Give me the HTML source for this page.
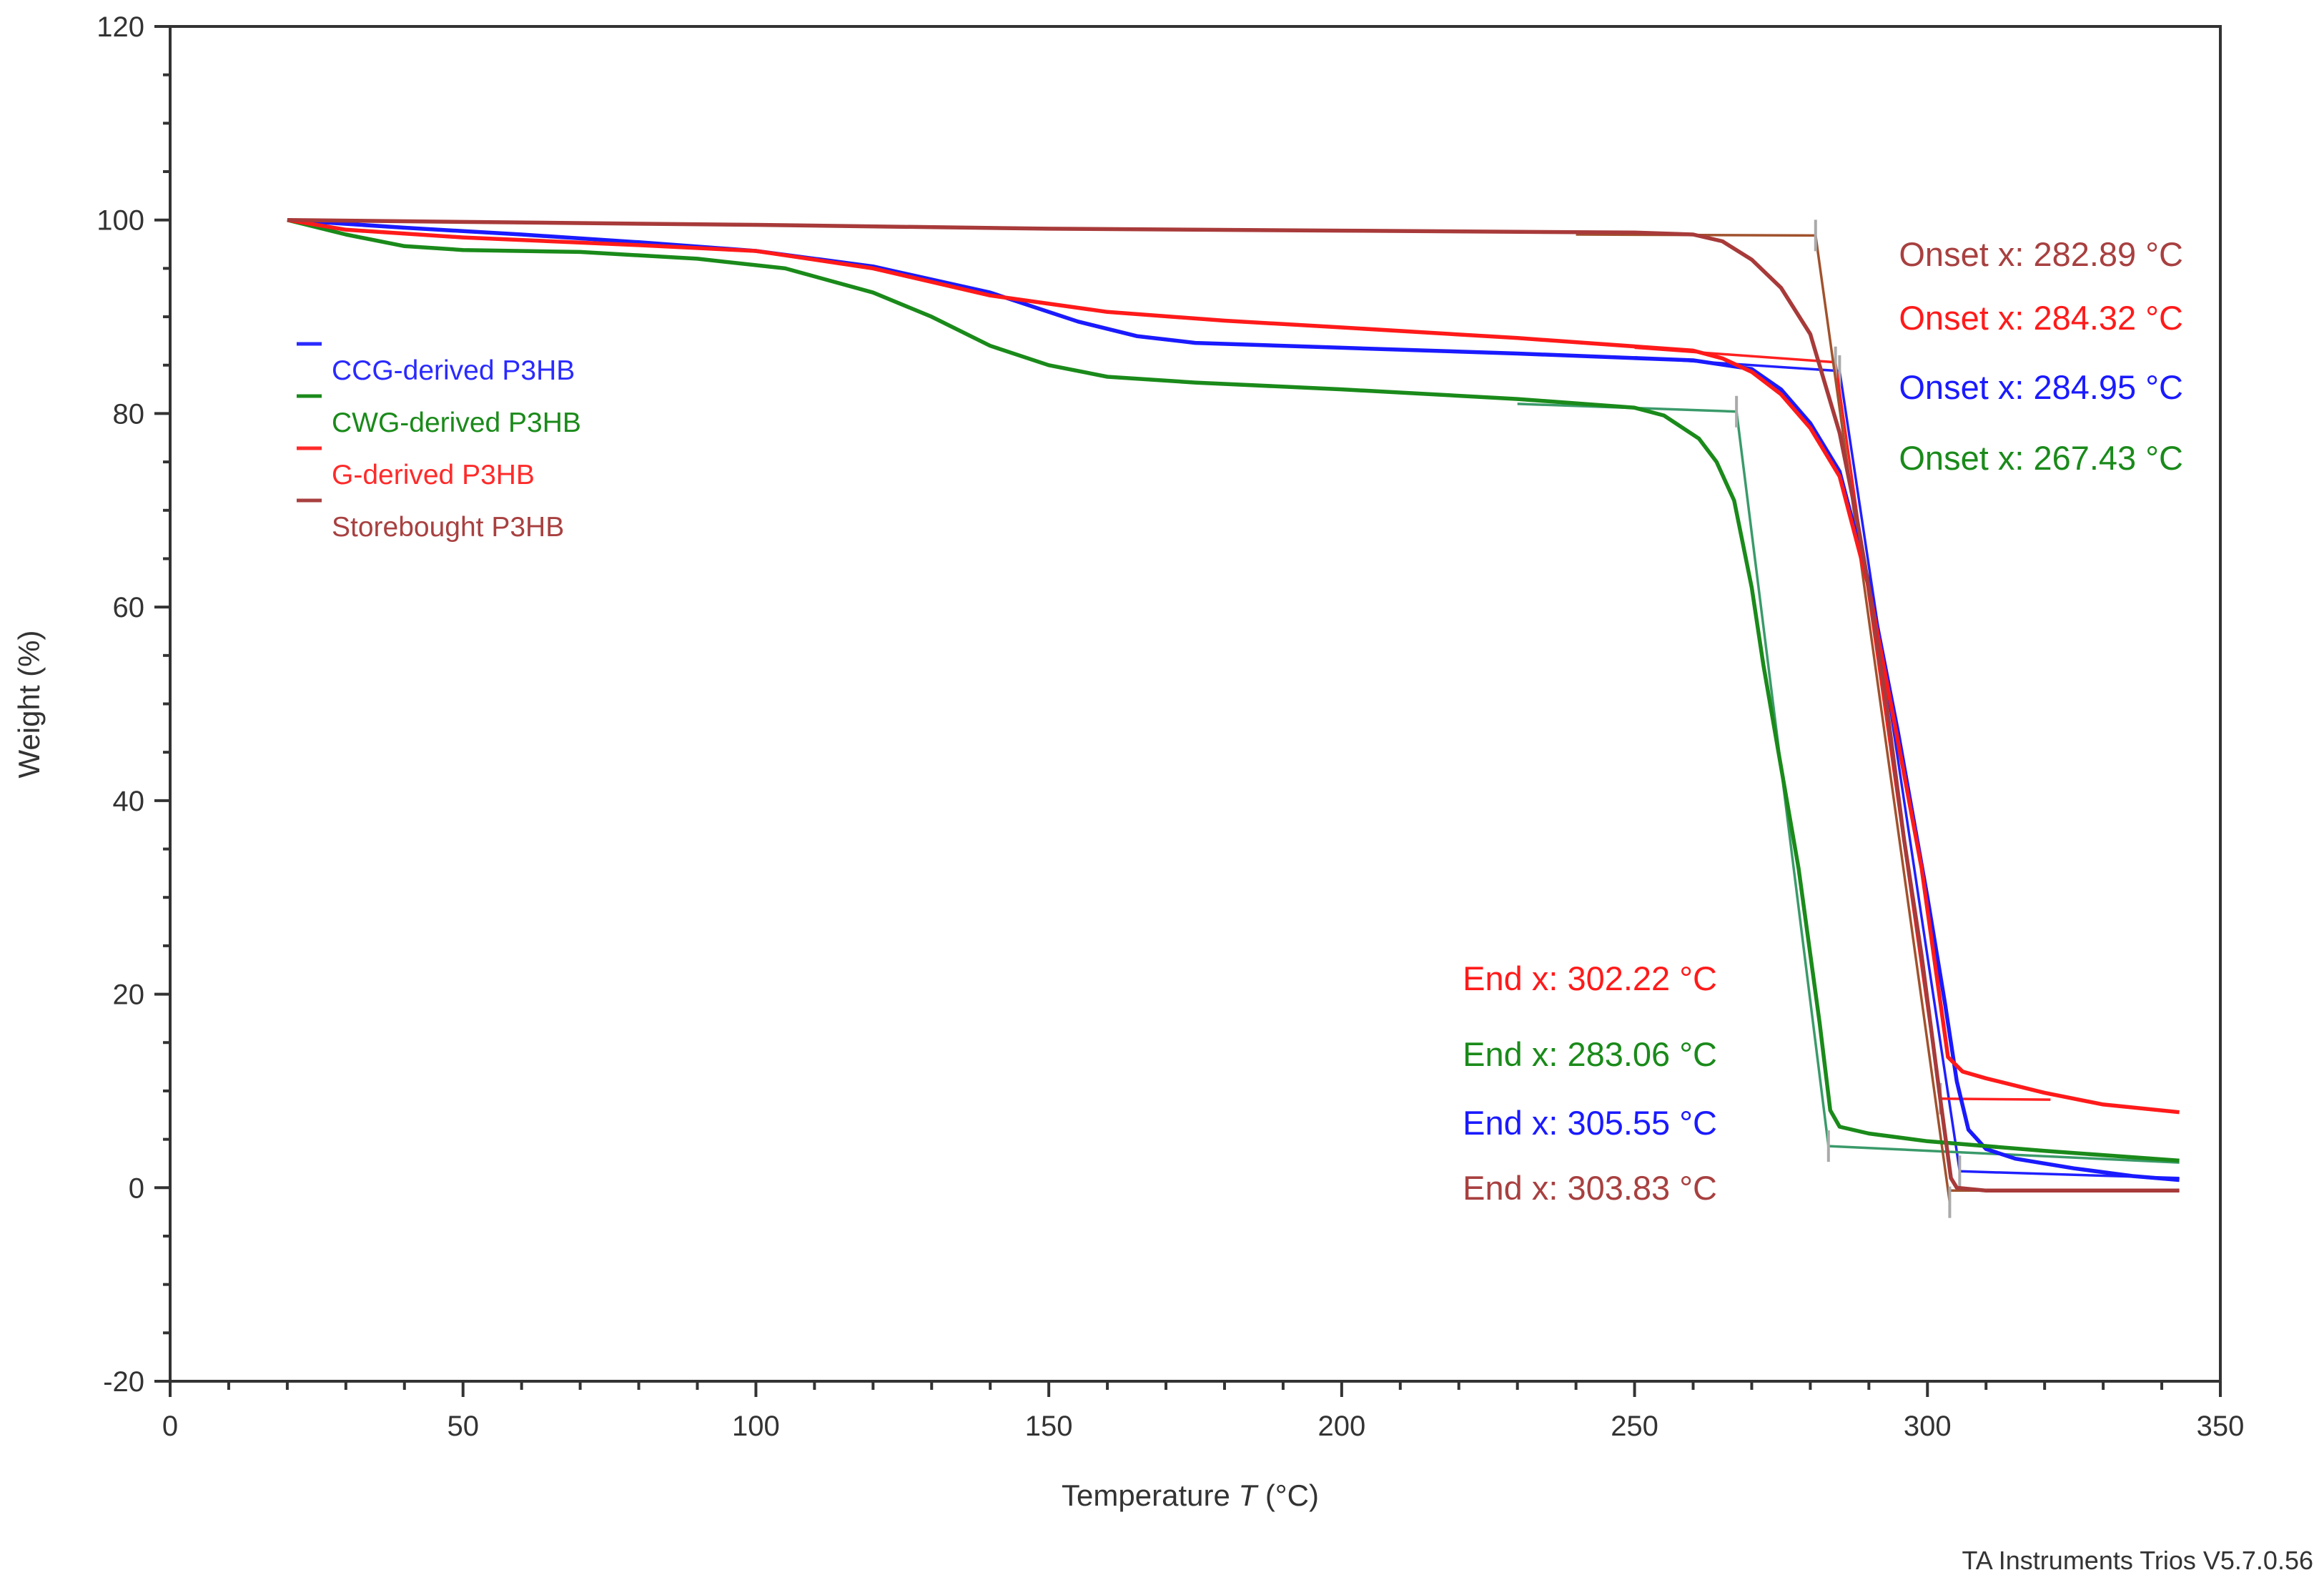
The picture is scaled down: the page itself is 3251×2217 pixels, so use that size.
<!DOCTYPE html>
<html><head><meta charset="utf-8"><style>
html,body{margin:0;padding:0;background:#fff;}
svg{display:block;font-family:"Liberation Sans",Arial,sans-serif;}
</style></head><body>
<svg id="chart" width="3251" height="2217" viewBox="0 0 3251 2217" xmlns="http://www.w3.org/2000/svg">
<rect width="3251" height="2217" fill="#fff"/>
<g id="grid"></g>
<g id="series"></g>
<g id="labels"></g>
</svg>
<script>
// ---- data ----
const xTicks = [0,50,100,150,200,250,300,350];
const yTicks = [-20,0,20,40,60,80,100,120];
const ccgT = [20,40,60,80,100,120,140,155,165,175,200,230,260,270,275,280,285,290,295,300,303,305,307,310,315,325,335,343];
const ccgW = [100,99.2,98.5,97.7,96.8,95.2,92.5,89.5,88,87.3,86.8,86.2,85.5,84.6,82.5,79,74,62.5,47,30,19,11,6,4,3,2,1.2,0.8];
const gT = [20,30,50,80,100,120,140,160,180,200,230,260,265,270,275,280,285,290,295,299,302,303.5,306,310,320,330,343];
const gW = [100,99,98.2,97.4,96.8,95,92.2,90.5,89.6,88.9,87.8,86.5,85.7,84.3,82,78.5,73.5,62,46,33,20,13.5,12,11.3,9.8,8.6,7.8];
const cwgT = [20,30,40,50,70,90,105,120,130,140,150,160,175,200,230,250,255,261,264,267,270,272,275,278,281.6,283.4,285,290,300,320,343];
const cwgW = [100,98.5,97.3,96.9,96.7,96,95,92.5,90,87,85,83.8,83.2,82.5,81.5,80.6,79.8,77.4,75,71,62,54,43.5,33,17,8,6.3,5.6,4.8,3.8,2.8];
const sbT = [20,50,100,150,200,250,260,265,270,275,280,285,288,290,293,296,299,302,304,305,310,343];
const sbW = [100,99.8,99.5,99.1,98.9,98.7,98.5,97.8,95.9,93,88.2,78,69,62,50,36,24,10,1,0,-0.3,-0.3];
// tangent construction lines: [x0,y0,x1,y1,...]
const sbTan = [240,98.5, 280.9,98.4, 303.8,-1.5];
const sbBase = [303.8,-0.3, 343,-0.3];
const gTan = [250,86.8, 284.3,85.3, 302.2,9.2];
const gBase = [302.2,9.2, 321,9.1];
const ccgTan = [250,85.8, 285,84.4, 305.5,1.7];
const ccgBase = [305.5,1.7, 343,1.0];
const cwgTan = [230,81, 267.4,80.2, 283.1,4.3];
const cwgBase = [283.1,4.3, 343,2.6];
const onsetLabels = ["Onset x: 282.89 °C","Onset x: 284.32 °C","Onset x: 284.95 °C","Onset x: 267.43 °C"];
const endLabels = ["End x: 302.22 °C","End x: 283.06 °C","End x: 305.55 °C","End x: 303.83 °C"];

const X0=238,X1=3106,Y0=1932,Y1=37;
const sx=v=>X0+(v-0)/(350-0)*(X1-X0);
const sy=v=>Y0-(v+20)/(140)*(Y0-Y1);
const NS="http://www.w3.org/2000/svg";
function mk(tag,attrs,parent){const e=document.createElementNS(NS,tag);for(const k in attrs)e.setAttribute(k,attrs[k]);parent.appendChild(e);return e;}
const grid=document.getElementById('grid'),ser=document.getElementById('series'),lab=document.getElementById('labels');

let frame=mk('rect',{x:X0,y:Y1,width:X1-X0,height:Y0-Y1,fill:'none',stroke:'#333','stroke-width':4},grid);


for(let v=0;v<=350;v+=10){
  const major=v%50===0;
  const t=mk('line',{x1:sx(v),x2:sx(v),y1:Y0,y2:Y0+(major?22:12),stroke:'#333','stroke-width':4},grid);
  
  
}
xTicks.forEach(v=>{
  const t=mk('text',{x:sx(v),y:2008,'font-size':40,'text-anchor':'middle',fill:'#333'},lab);
  t.textContent=v;
  
  
});
for(let v=-20;v<=120;v+=5){
  const major=v%20===0;
  const t=mk('line',{x1:X0,x2:X0-(major?22:10),y1:sy(v),y2:sy(v),stroke:'#333','stroke-width':4},grid);
  
  
}
yTicks.forEach(v=>{
  const t=mk('text',{x:202,y:sy(v)+14,'font-size':40,'text-anchor':'end',fill:'#333'},lab);
  t.textContent=v;
  
  
});
let xt=mk('text',{x:1665,y:2106,'font-size':42,'text-anchor':'middle',fill:'#333'},lab);
xt.innerHTML='Temperature <tspan font-style="italic">T</tspan> (°C)';


let yt=mk('text',{x:0,y:0,'font-size':42,'text-anchor':'middle',fill:'#333',transform:'translate(55,985) rotate(-90)'},lab);
yt.textContent='Weight  (%)';


let ft=mk('text',{x:3236,y:2195,'font-size':36,'text-anchor':'end',fill:'#333'},lab);
ft.textContent='TA Instruments Trios V5.7.0.56';



function poly(ts,ws){return ts.map((t,i)=>sx(t).toFixed(1)+','+sy(ws[i]).toFixed(1)).join(' ');}
function pairs(a){let s=[];for(let i=0;i<a.length;i+=2)s.push(sx(a[i]).toFixed(1)+','+sy(a[i+1]).toFixed(1));return s.join(' ');}
function tick(xv,yv){const l=mk('line',{x1:sx(xv),x2:sx(xv),y1:sy(yv)-22,y2:sy(yv)+22,stroke:'#aaa','stroke-width':4},ser);
  
  }

const specs=[
 {n:'ccg',t:ccgT,w:ccgW,c:'#1a1aff',tc:'#2020ff',tan:ccgTan,base:ccgBase},
 {n:'cwg',t:cwgT,w:cwgW,c:'#1a8a1a',tc:'#3a9a6a',tan:cwgTan,base:cwgBase},
 {n:'g',t:gT,w:gW,c:'#ff1a1a',tc:'#ff2020',tan:gTan,base:gBase},
 {n:'storebought',t:sbT,w:sbW,c:'#a83a3a',tc:'#a0522d',tan:sbTan,base:sbBase}
];
specs.forEach(s=>{
  const tl=mk('polyline',{points:pairs(s.tan),fill:'none',stroke:s.tc,'stroke-width':3.5},ser);
  
  
  const bl=mk('polyline',{points:pairs(s.base),fill:'none',stroke:s.tc,'stroke-width':3.5},ser);
  
  
  tick(s.tan[2],s.tan[3]); tick(s.tan[4],s.tan[5]);
});
specs.forEach(s=>{
  const p=mk('polyline',{points:poly(s.t,s.w),fill:'none',stroke:s.c,'stroke-width':5.5,'stroke-linejoin':'round'},ser);
  
  
});

const legNames=['CCG-derived P3HB','CWG-derived P3HB','G-derived P3HB','Storebought P3HB'];
const legCols=['#2a2aff','#1a8a1a','#ff2a2a','#a84040'];
legNames.forEach((nm,i)=>{
  const y=481+i*73;
  const sw=mk('line',{x1:415,x2:450,y1:y,y2:y,stroke:legCols[i],'stroke-width':5},lab);
  
  
  const tx=mk('text',{x:464,y:y+50,'font-size':39,fill:legCols[i]},lab);
  tx.textContent=nm;
  
  
});
const onCols=['#a84040','#ff1a1a','#1a1aff','#1a8a1a'];
const onY=[372,461,558,657];
onsetLabels.forEach((s,i)=>{
  const t=mk('text',{x:3054,y:onY[i],'font-size':47,'text-anchor':'end',fill:onCols[i]},lab);
  t.textContent=s;
  
  
});
const endCols=['#ff1a1a','#1a8a1a','#1a1aff','#a84040'];
const endY=[1385,1491,1587,1678];
endLabels.forEach((s,i)=>{
  const t=mk('text',{x:2402,y:endY[i],'font-size':47,'text-anchor':'end',fill:endCols[i]},lab);
  t.textContent=s;
  
  
});
</script>
</body></html>
